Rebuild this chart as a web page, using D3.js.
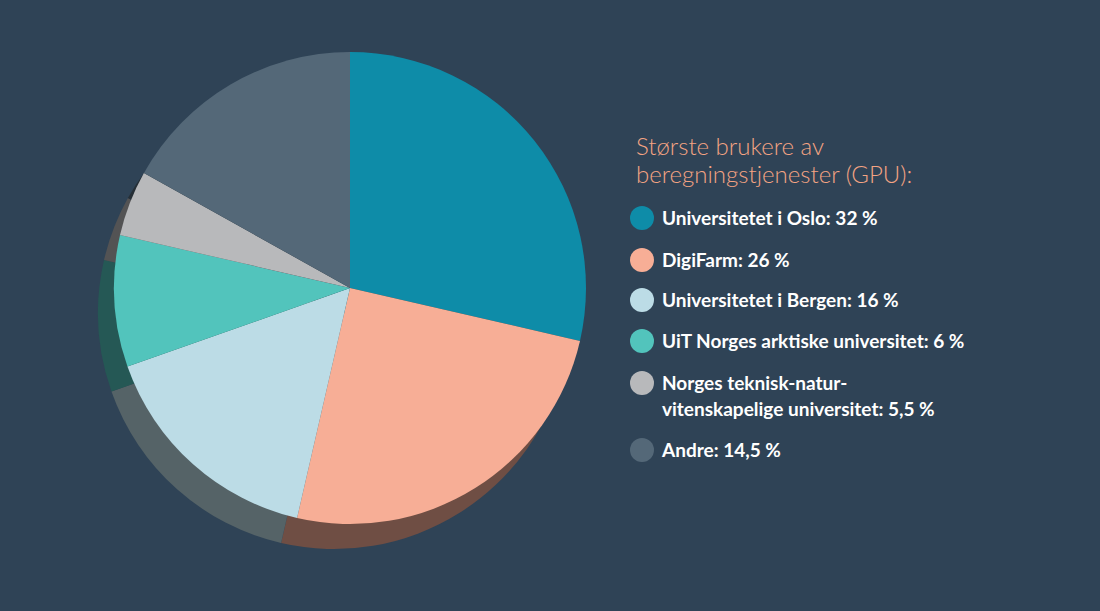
<!DOCTYPE html>
<html><head><meta charset="utf-8">
<script src="https://cdn.jsdelivr.net/npm/d3@7"></script>
<style>body{margin:0;background:#2f4356;}</style>
</head><body><svg id="chart"></svg>
<script>
// Slice sizes as drawn, and the legend labels as printed
const categories = ["Universitetet i Oslo", "DigiFarm", "Universitetet i Bergen",
  "UiT Norges arktiske universitetet", "Norges teknisk-natur-vitenskapelige universitetet", "Andre"];
const sliceValues = [28.6, 25, 16, 9, 4.5, 16.9];
const legendLines = [["Universitetet i Oslo: 32 %"], ["DigiFarm: 26 %"], ["Universitetet i Bergen: 16 %"],
  ["UiT Norges arktiske universitet: 6 %"], ["Norges teknisk-natur-", "vitenskapelige universitet: 5,5 %"], ["Andre: 14,5 %"]];
const colors = ["#0e8ca8", "#f7ae96", "#bcdce6", "#52c4bc", "#b8b9bb", "#546878"];
const titleLines = ["Største brukere av", "beregningstjenester (GPU):"];

const width = 1100, height = 611;
const svg = d3.select("#chart").attr("width", width).attr("height", height);
const cx = 350, cy = 288, r = 236;

const pie = d3.pie().sort(null).value(d => d)(sliceValues);
const arc = d3.arc().innerRadius(0).outerRadius(r);

// shadow: same pie, shifted down-left and darkened
svg.append("g").attr("transform", `translate(${cx - 16},${cy + 25})`)
  .selectAll("path").data(pie).join("path")
  .attr("d", arc)
  .attr("fill", (d, i) => d3.interpolateRgb(colors[i], "#000")(0.55));

svg.append("g").attr("transform", `translate(${cx},${cy})`)
  .selectAll("path").data(pie).join("path")
  .attr("d", arc)
  .attr("fill", (d, i) => colors[i]);

// title
svg.append("g").selectAll("text").data(titleLines).join("text")
  .attr("x", 636).attr("y", (d, i) => 155 + i * 28)
  .attr("fill", "#f4a383").attr("font-family", "Lato, sans-serif")
  .attr("font-weight", 300).attr("font-size", 24).text(d => d);

// legend
const rowY = [218, 260, 300, 341, 383, 450];
const leg = svg.append("g").selectAll("g").data(legendLines).join("g")
  .attr("transform", (d, i) => `translate(642,${rowY[i]})`);
leg.append("circle").attr("r", 12).attr("fill", (d, i) => colors[i]);
leg.selectAll("text").data(d => d).join("text")
  .attr("x", 20).attr("y", (d, i) => 7 + i * 26)
  .attr("fill", "#fff").attr("font-family", "Lato, sans-serif")
  .attr("font-weight", 700).attr("font-size", 19).text(d => d);
</script></body></html>
